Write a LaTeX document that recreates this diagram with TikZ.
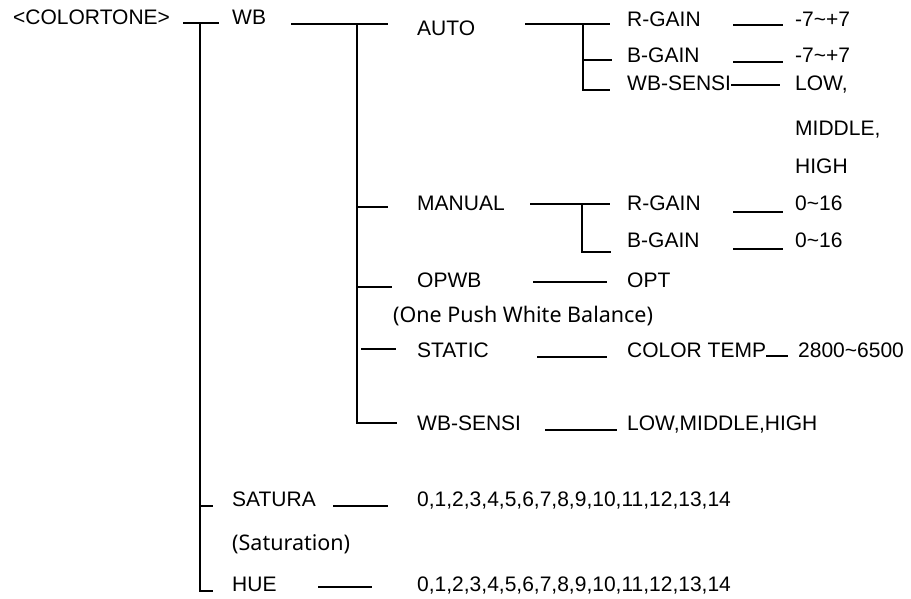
\documentclass[tikz,border=0pt]{standalone}
\usepackage{fontspec}
\setmainfont{Liberation Sans}
\newfontfamily\notefont{Noto Sans}
\begin{document}
\begin{tikzpicture}[x=1pt,y=-1pt,
  txt/.style={anchor=base west,inner sep=0pt,font=\fontsize{21}{25}\selectfont},
  note/.style={anchor=base west,inner sep=0pt,font=\notefont\fontsize{21.5}{25}\selectfont},
  ln/.style={line width=1.5pt}]
\useasboundingbox (0,0) rectangle (911,598);
% texts
\node[txt] (ct) at (13,24) {<COLORTONE>};
\node[txt] (wb) at (232,24) {WB};
\node[txt] (auto) at (417,35) {AUTO};
\node[txt] (argain) at (627,26) {R-GAIN};
\node[txt] (argainv) at (795,26) {-7\textasciitilde+7};
\node[txt] (abgain) at (627,62) {B-GAIN};
\node[txt] (abgainv) at (795,62) {-7\textasciitilde+7};
\node[txt] (asensi) at (627,90) {WB-SENSI};
\node[txt] (low) at (795,90) {LOW,};
\node[txt] (mid) at (795,135) {MIDDLE,};
\node[txt] (high) at (795,173) {HIGH};
\node[txt] (manual) at (417,210) {MANUAL};
\node[txt] (mrgain) at (627,210) {R-GAIN};
\node[txt] (mrgainv) at (795,210) {0\textasciitilde16};
\node[txt] (mbgain) at (627,247) {B-GAIN};
\node[txt] (mbgainv) at (795,247) {0\textasciitilde16};
\node[txt] (opwb) at (417,287) {OPWB};
\node[txt] (opt) at (627,287) {OPT};
\node[note] (opwbnote) at (393,322) {(One Push White Balance)};
\node[txt] (static) at (417,357) {STATIC};
\node[txt] (ctemp) at (627,357) {COLOR TEMP};
\node[txt] (ctempv) at (798,357) {2800\textasciitilde6500};
\node[txt] (wbsensi) at (417,430) {WB-SENSI};
\node[txt] (wbsensiv) at (627,430) {LOW,MIDDLE,HIGH};
\node[txt] (satura) at (232,506) {SATURA};
\node[txt] (saturav) at (417,506) {0,1,2,3,4,5,6,7,8,9,10,11,12,13,14};
\node[note] (saturanote) at (232,550) {(Saturation)};
\node[txt] (hue) at (232,591) {HUE};
\node[txt] (huev) at (417,591) {0,1,2,3,4,5,6,7,8,9,10,11,12,13,14};
% connector points
\coordinate (c0) at (183,23); \coordinate (c1) at (219,23);
\coordinate (m0) at (200,23); \coordinate (m1) at (200,591); \coordinate (m2) at (213,591);
\coordinate (s0) at (200,506); \coordinate (s1) at (213,506);
\coordinate (w0) at (291,24); \coordinate (w1) at (388,24);
\coordinate (v0) at (357,24); \coordinate (v1) at (357,423); \coordinate (v2) at (397,423);
\coordinate (t1a) at (357,207); \coordinate (t1b) at (388,207);
\coordinate (t2a) at (357,287); \coordinate (t2b) at (392,287);
\coordinate (t3a) at (361,349); \coordinate (t3b) at (396,349);
\coordinate (a0) at (525,24); \coordinate (a1) at (610,24);
\coordinate (av0) at (583,24); \coordinate (av1) at (583,90); \coordinate (av2) at (610,90);
\coordinate (at0) at (583,60); \coordinate (at1) at (612,60);
\coordinate (r0) at (733,25); \coordinate (r1) at (783,25);
\coordinate (b0) at (733,62); \coordinate (b1) at (783,62);
\coordinate (e0) at (731,85); \coordinate (e1) at (780,85);
\coordinate (n0) at (530,204); \coordinate (n1) at (610,204);
\coordinate (nv0) at (582,204); \coordinate (nv1) at (582,252); \coordinate (nv2) at (611,252);
\coordinate (nr0) at (733,212); \coordinate (nr1) at (783,212);
\coordinate (nb0) at (733,249); \coordinate (nb1) at (783,249);
\coordinate (o0) at (533,282); \coordinate (o1) at (607,282);
\coordinate (st0) at (537,357); \coordinate (st1) at (607,357);
\coordinate (ct0) at (766,356); \coordinate (ct1) at (788,356);
\coordinate (ws0) at (545,430); \coordinate (ws1) at (617,430);
\coordinate (sa0) at (333,506); \coordinate (sa1) at (388,506);
\coordinate (h0) at (318,587); \coordinate (h1) at (372,587);
% connectors
\draw[ln] (c0) -- (c1);
\draw[ln] (m0) -- (m1) -- (m2);
\draw[ln] (s0) -- (s1);
\draw[ln] (w0) -- (w1);
\draw[ln] (v0) -- (v1) -- (v2);
\draw[ln] (t1a) -- (t1b);
\draw[ln] (t2a) -- (t2b);
\draw[ln] (t3a) -- (t3b);
\draw[ln] (a0) -- (a1);
\draw[ln] (av0) -- (av1) -- (av2);
\draw[ln] (at0) -- (at1);
\draw[ln] (r0) -- (r1);
\draw[ln] (b0) -- (b1);
\draw[ln] (e0) -- (e1);
\draw[ln] (n0) -- (n1);
\draw[ln] (nv0) -- (nv1) -- (nv2);
\draw[ln] (nr0) -- (nr1);
\draw[ln] (nb0) -- (nb1);
\draw[ln] (o0) -- (o1);
\draw[ln] (st0) -- (st1);
\draw[ln] (ct0) -- (ct1);
\draw[ln] (ws0) -- (ws1);
\draw[ln] (sa0) -- (sa1);
\draw[ln] (h0) -- (h1);
\end{tikzpicture}
\end{document}
